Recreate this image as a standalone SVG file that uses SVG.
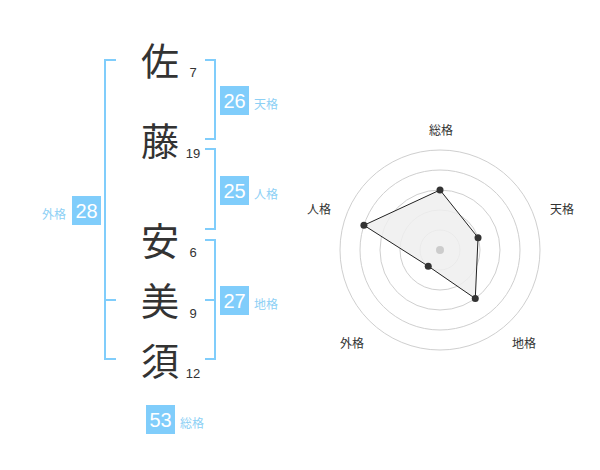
<svg xmlns="http://www.w3.org/2000/svg" width="600" height="470" viewBox="0 0 600 470">
<style>
.k{font-family:"Noto Sans CJK JP","Noto Sans CJK SC",sans-serif;font-size:38px;fill:#333;text-anchor:middle}
.n{font-family:"Liberation Sans",Arial,sans-serif;font-size:13px;fill:#333;text-anchor:middle}
.br{fill:none;stroke:#80cdfb;stroke-width:2}
.box{fill:#80cdfb}
.bn{font-family:"Liberation Sans",Arial,sans-serif;font-size:20px;fill:#fff;text-anchor:middle}
.lb{font-family:"Noto Sans CJK JP","Noto Sans CJK SC",sans-serif;font-size:12px;fill:#8dd0f5}
.rl{font-family:"Noto Sans CJK JP","Noto Sans CJK SC",sans-serif;font-size:12px;fill:#333;text-anchor:middle}
.ring{fill:none;stroke:#cfcfcf;stroke-width:1}
.pt{fill:#333}
</style>
<g id="name">
<g id="c1"><text class="k" x="160" y="75">佐</text><text class="n" x="193" y="77">7</text></g>
<g id="c2"><text class="k" x="160" y="155">藤</text><text class="n" x="193" y="158">19</text></g>
<g id="c3"><text class="k" x="160" y="254.5">安</text><text class="n" x="193" y="257">6</text></g>
<g id="c4"><text class="k" x="160" y="314.5">美</text><text class="n" x="193" y="318">9</text></g>
<g id="c5"><text class="k" x="160" y="374.5">須</text><text class="n" x="193" y="378">12</text></g>
</g>
<g id="connectors">
<path class="br" d="M116,60 H105 V359 H116 M105,300 H116"/>
<path class="br" d="M205,60 H215 V139 H205"/>
<path class="br" d="M205,149 H215 V229 H205"/>
<path class="br" d="M205,240 H215 V359 H205 M205,300 H215"/>
</g>
<g id="tenkaku"><rect class="box" x="220" y="86" width="29" height="29"/><text class="bn" x="234.5" y="108">26</text><text class="lb" x="254" y="109">天格</text></g>
<g id="jinkaku"><rect class="box" x="220" y="176" width="29" height="29"/><text class="bn" x="234.5" y="198">25</text><text class="lb" x="254" y="199">人格</text></g>
<g id="chikaku"><rect class="box" x="220" y="286" width="29" height="29"/><text class="bn" x="234.5" y="308">27</text><text class="lb" x="254" y="309">地格</text></g>
<g id="gaikaku"><rect class="box" x="72" y="196" width="29" height="29"/><text class="bn" x="86.5" y="218">28</text><text class="lb" x="42" y="219">外格</text></g>
<g id="soukaku"><rect class="box" x="146" y="405" width="29" height="29"/><text class="bn" x="160.5" y="427">53</text><text class="lb" x="180" y="428">総格</text></g>
<g id="radar">
<circle class="ring" cx="440" cy="250" r="20"/>
<circle class="ring" cx="440" cy="250" r="40"/>
<circle class="ring" cx="440" cy="250" r="60"/>
<circle class="ring" cx="440" cy="250" r="80"/>
<circle class="ring" cx="440" cy="250" r="100"/>
<polygon points="440,190 478.04,237.64 475.27,298.54 428.24,266.18 363.92,225.28" fill="#eeeeee" fill-opacity="0.85" stroke="#222" stroke-width="1"/>
<circle cx="440" cy="250" r="4" fill="#cccccc"/>
<circle class="pt" cx="440" cy="190" r="3.5"/>
<circle class="pt" cx="478.04" cy="237.64" r="3.5"/>
<circle class="pt" cx="475.27" cy="298.54" r="3.5"/>
<circle class="pt" cx="428.24" cy="266.18" r="3.5"/>
<circle class="pt" cx="363.92" cy="225.28" r="3.5"/>
<text class="rl" x="441" y="135">総格</text>
<text class="rl" x="562" y="214">天格</text>
<text class="rl" x="524" y="348">地格</text>
<text class="rl" x="352" y="348">外格</text>
<text class="rl" x="319" y="214">人格</text>
</g>
</svg>
